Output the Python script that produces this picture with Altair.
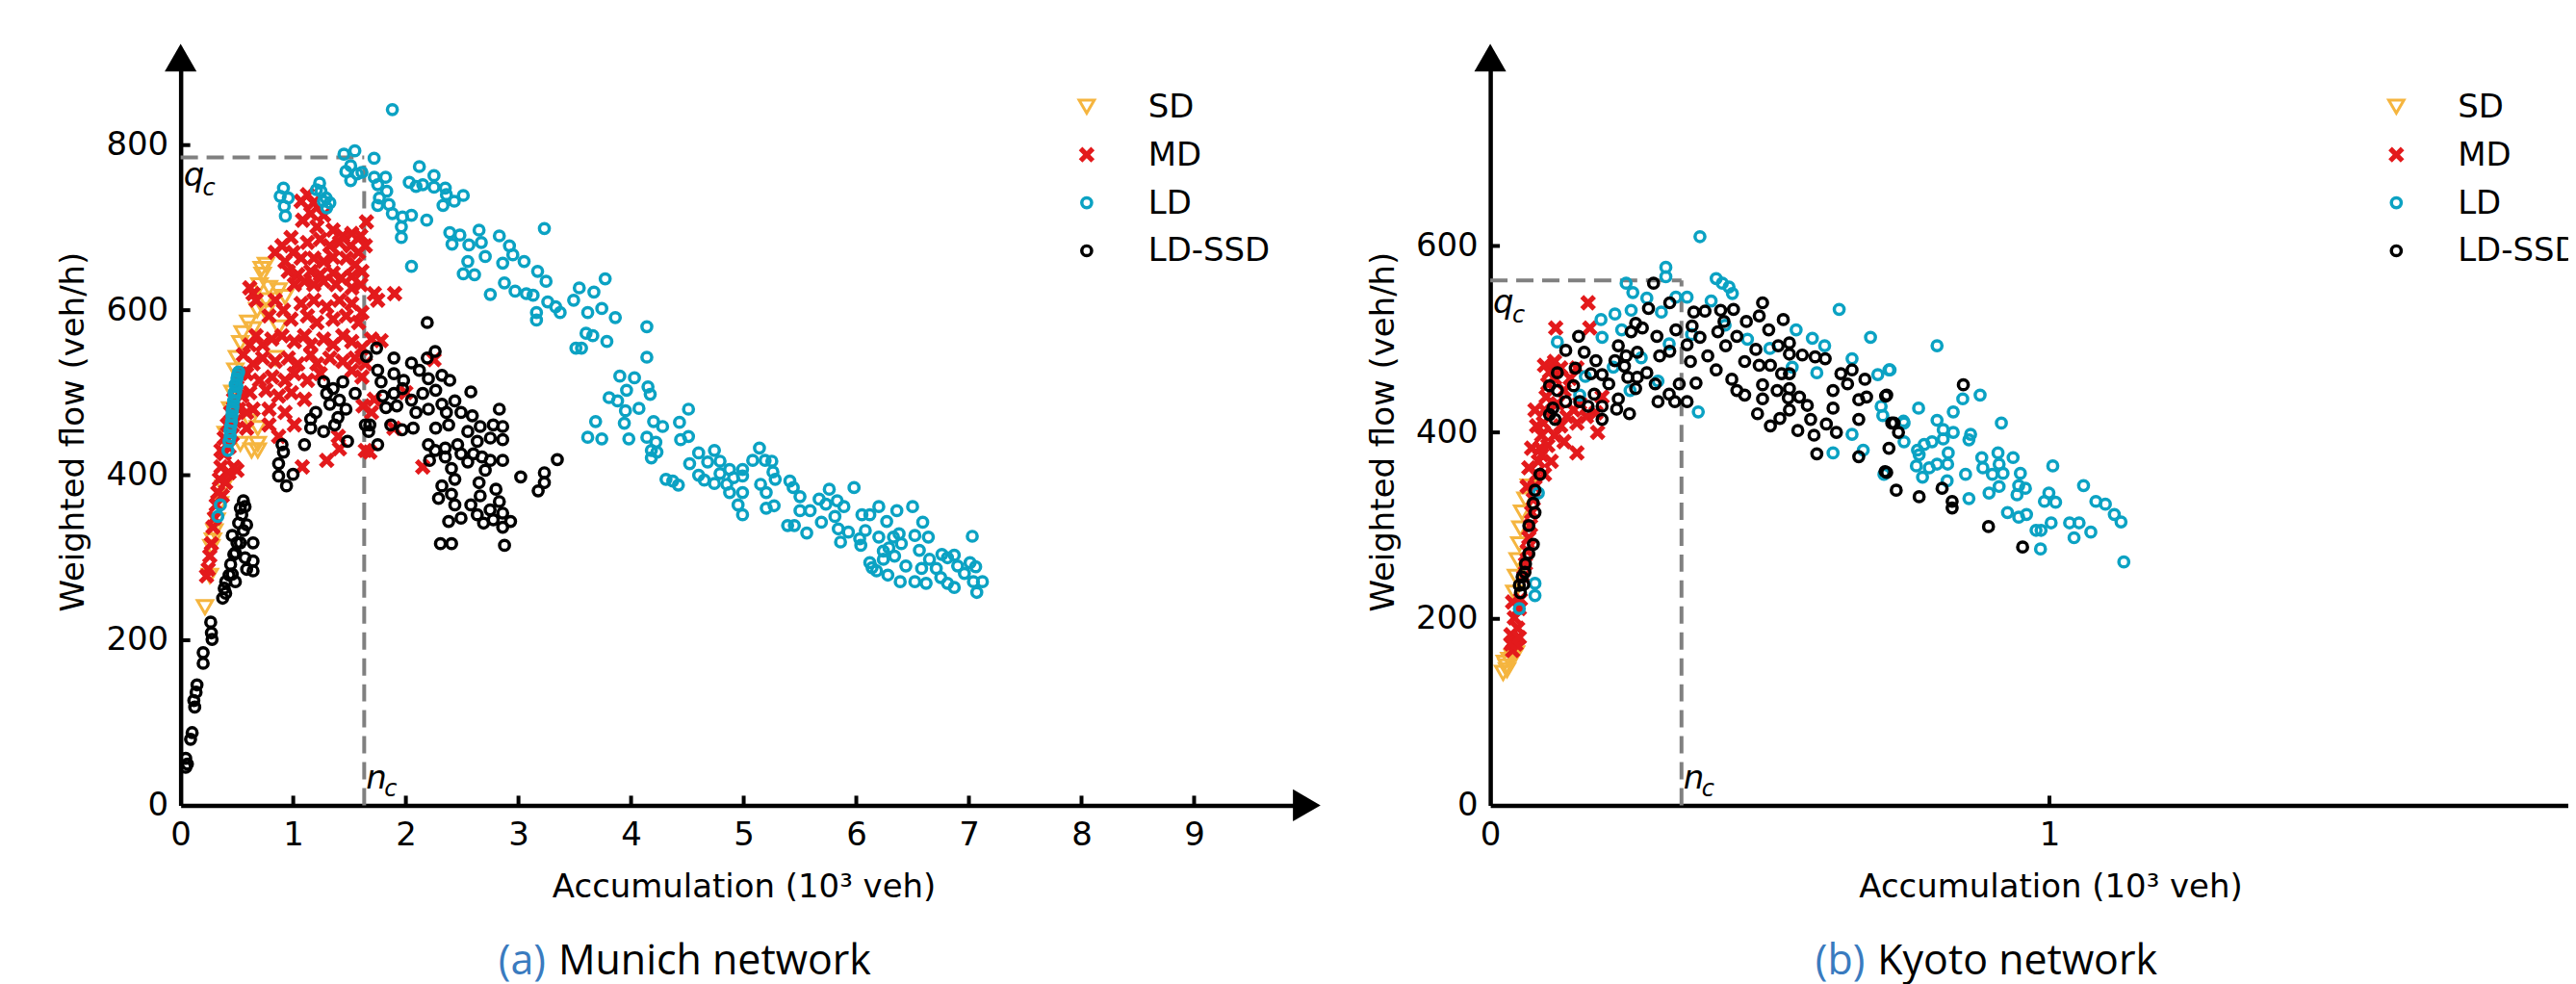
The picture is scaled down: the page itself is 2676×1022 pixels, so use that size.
import altair as alt
import pandas as pd

# ---------------- data ----------------
MUNICH_SD = [
    (0.216, 240), (0.259, 278), (0.273, 313), (0.287, 321), (0.30, 332), (0.32, 345),
    (0.35, 365), (0.38, 385), (0.40, 450), (0.44, 480), (0.46, 500), (0.486, 527),
    (0.50, 542), (0.53, 560), (0.55, 572), (0.60, 585), (0.643, 577), (0.68, 600),
    (0.70, 630), (0.72, 650), (0.757, 597), (0.757, 612), (0.757, 655), (0.728, 643),
    (0.785, 627), (0.87, 624), (0.927, 616), (0.87, 579), (0.842, 542), (0.614, 465),
    (0.685, 457), (0.685, 438), (0.63, 430), (0.53, 438), (0.685, 430),
]
MUNICH_MD = [
    (1.126, 740), (1.07, 732), (1.18, 730), (1.27, 715), (1.155, 717), (1.083, 709),
    (1.21, 701), (1.354, 697), (1.44, 690), (1.52, 693), (1.60, 690), (1.65, 707),
    (0.98, 688), (0.90, 678), (0.84, 670), (1.00, 670), (1.126, 682), (1.24, 686),
    (1.325, 678), (1.41, 682), (1.51, 678), (1.58, 670), (0.927, 659), (1.07, 663),
    (1.183, 663), (1.27, 659), (1.354, 664), (1.47, 663), (1.55, 655), (1.64, 678),
    (0.956, 647), (1.04, 643), (1.155, 647), (1.24, 643), (1.354, 645), (1.425, 639),
    (1.52, 641), (1.61, 647), (1.01, 631), (1.10, 635), (1.183, 631), (1.27, 635),
    (1.38, 631), (1.52, 627), (1.60, 631), (0.643, 620), (0.614, 627), (0.67, 612),
    (1.72, 620), (1.75, 612), (0.84, 612), (0.913, 600), (1.07, 608), (1.183, 612),
    (1.297, 604), (1.41, 612), (1.52, 608), (1.61, 597), (0.785, 593), (0.98, 589),
    (1.126, 593), (1.21, 585), (1.354, 589), (1.47, 593), (1.58, 585), (1.695, 565),
    (1.78, 563), (0.67, 569), (0.614, 558), (0.728, 558), (0.81, 565), (0.90, 569),
    (1.01, 562), (1.10, 569), (1.155, 558), (1.27, 565), (1.354, 558), (1.44, 569),
    (1.52, 562), (1.61, 554), (0.557, 546), (0.643, 535), (0.728, 542), (0.84, 538),
    (0.956, 542), (1.04, 535), (1.155, 546), (1.21, 535), (1.325, 542), (1.44, 538),
    (1.55, 542), (1.64, 535), (0.586, 523), (0.70, 515), (0.813, 519), (0.927, 515),
    (1.01, 523), (1.126, 515), (1.24, 523), (1.52, 527), (1.61, 519), (0.614, 500),
    (0.757, 503), (0.87, 496), (0.984, 500), (1.10, 492), (0.643, 480), (0.785, 480),
    (0.927, 476), (1.01, 461), (0.586, 457), (0.785, 461), (0.87, 447), (1.40, 447),
    (1.64, 430), (1.62, 484), (1.695, 476), (1.72, 492), (1.894, 457), (1.90, 620),
    (2.15, 410), (2.25, 540), (2.00, 500), (1.08, 410), (1.297, 418), (1.41, 432),
    (1.68, 428), (0.53, 523), (0.50, 507), (0.47, 492), (0.444, 476), (0.415, 461),
    (0.387, 445), (0.358, 430), (0.543, 496), (0.515, 480), (0.486, 465), (0.458, 449),
    (0.43, 434), (0.586, 476), (0.387, 426), (0.358, 410), (0.344, 395), (0.33, 379),
    (0.316, 364), (0.30, 348), (0.287, 337), (0.273, 317), (0.259, 302), (0.245, 286),
    (0.23, 278), (0.43, 403), (0.472, 410), (0.50, 406), (0.40, 391), (0.37, 375),
]
MUNICH_LD = [
    (1.88, 843), (1.45, 789), (1.547, 793), (1.51, 775), (1.467, 768), (1.567, 765),
    (1.51, 757), (1.61, 767), (1.718, 784), (0.913, 748), (0.884, 738), (0.956, 736),
    (0.92, 726), (0.93, 714), (1.234, 754), (1.206, 746), (1.246, 744), (1.291, 736),
    (1.325, 730), (1.297, 724), (1.268, 732), (1.72, 761), (1.82, 761), (1.75, 752),
    (1.83, 744), (1.765, 736), (1.75, 727), (1.85, 728), (1.88, 717), (1.97, 713),
    (2.05, 715), (1.96, 701), (1.96, 688), (2.03, 755), (2.12, 774), (2.09, 750),
    (2.15, 752), (2.25, 763), (2.25, 749), (2.35, 748), (2.36, 740), (2.33, 727),
    (2.43, 732), (2.51, 739), (2.185, 709), (2.05, 653), (2.39, 694), (2.48, 691),
    (2.41, 680), (2.56, 679), (2.65, 697), (2.67, 682), (2.705, 665), (2.55, 659),
    (2.51, 644), (2.61, 643), (2.75, 619), (2.83, 690), (2.92, 678), (2.95, 667),
    (2.86, 657), (3.05, 659), (2.875, 633), (2.97, 623), (3.07, 620), (3.13, 618),
    (3.17, 647), (3.23, 699), (3.245, 635), (3.26, 610), (3.33, 604), (3.37, 597),
    (3.16, 597), (3.16, 588), (3.49, 612), (3.54, 627), (3.67, 622), (3.77, 638),
    (3.615, 597), (3.74, 602), (3.86, 591), (4.14, 580), (4.14, 543), (3.60, 572),
    (3.66, 569), (3.51, 554), (3.56, 554), (3.785, 562), (3.90, 520), (4.03, 518),
    (3.96, 503), (3.805, 494), (3.88, 490), (3.95, 478), (4.07, 481), (4.15, 507),
    (4.17, 498), (3.685, 465), (3.615, 446), (3.74, 444), (3.94, 463), (3.98, 444),
    (4.14, 446), (4.20, 465), (4.28, 459), (4.22, 440), (4.18, 430), (4.23, 428),
    (4.18, 421), (4.43, 464), (4.51, 480), (4.51, 447), (4.44, 443), (4.31, 395),
    (4.37, 393), (4.42, 388), (4.52, 414), (4.60, 427), (4.68, 416), (4.74, 430),
    (4.79, 417), (4.60, 400), (4.65, 394), (4.74, 390), (4.79, 402), (4.875, 407),
    (4.91, 397), (4.85, 389), (4.875, 379), (4.99, 407), (4.99, 399), (5.08, 418),
    (5.14, 433), (5.19, 418), (5.25, 417), (5.26, 404), (5.28, 395), (5.20, 379),
    (5.20, 360), (5.27, 363), (4.95, 364), (4.99, 352), (4.99, 379), (5.15, 389),
    (5.41, 393), (5.44, 385), (5.50, 374), (5.50, 357), (5.59, 357), (5.39, 339),
    (5.45, 339), (5.56, 330), (5.67, 371), (5.76, 383), (5.73, 365), (5.83, 369),
    (5.89, 362), (5.81, 350), (5.69, 343), (5.84, 335), (5.86, 319), (5.93, 331),
    (5.98, 385), (6.05, 352), (6.03, 323), (6.04, 315), (6.08, 333), (6.12, 352),
    (6.20, 362), (6.27, 344), (6.20, 325), (6.24, 308), (6.29, 312), (6.33, 325),
    (6.36, 357), (6.38, 329), (6.40, 317), (6.12, 294), (6.14, 288), (6.18, 284),
    (6.24, 298), (6.28, 279), (6.34, 302), (6.39, 271), (6.44, 290), (6.50, 362),
    (6.52, 327), (6.59, 343), (6.56, 309), (6.58, 287), (6.52, 271), (6.62, 269),
    (6.65, 298), (6.64, 325), (6.71, 287), (6.75, 276), (6.76, 304), (6.81, 300),
    (6.81, 269), (6.87, 303), (6.87, 264), (6.90, 290), (6.96, 281), (7.01, 294),
    (7.03, 326), (7.06, 289), (7.04, 271), (7.07, 258), (7.12, 271),
    (0.33, 350), (0.353, 364), (0.42, 430), (0.43, 441), (0.438, 454), (0.445, 460),
    (0.452, 465), (0.455, 472), (0.458, 477), (0.465, 483), (0.47, 490), (0.48, 496),
    (0.49, 502), (0.50, 508), (0.50, 517), (0.505, 521), (0.515, 525), (0.44, 447),
    (0.46, 480), (0.475, 500), (0.485, 510),
]
MUNICH_SSD = [
    (0.045, 57), (0.06, 50), (0.045, 46), (0.102, 88), (0.088, 80), (0.117, 127),
    (0.125, 119), (0.145, 146), (0.137, 137), (0.20, 185), (0.20, 172), (0.267, 222),
    (0.273, 209), (0.279, 201), (0.373, 251), (0.387, 263), (0.40, 271), (0.458, 280),
    (0.40, 257), (0.486, 271), (0.444, 292), (0.486, 306), (0.53, 318), (0.557, 333),
    (0.543, 352), (0.572, 362), (0.586, 340), (0.643, 318), (0.643, 296), (0.643, 284),
    (0.572, 300), (0.50, 318), (0.458, 327), (0.515, 342), (0.53, 360), (0.557, 369),
    (0.472, 304), (0.586, 286), (0.43, 279),
    (0.87, 414), (0.87, 399), (0.94, 387), (0.998, 401), (0.913, 428), (0.90, 437),
    (1.10, 437), (1.155, 457), (1.155, 468), (1.20, 476), (1.27, 513), (1.354, 505),
    (1.44, 513), (1.55, 499), (1.297, 499), (1.325, 486), (1.397, 470), (1.468, 480),
    (1.41, 491), (1.482, 441), (1.27, 453), (1.368, 461), (1.64, 461), (1.67, 453),
    (1.74, 554), (1.65, 544), (1.894, 542), (2.05, 536), (2.19, 542), (2.26, 550),
    (1.75, 527), (1.78, 513), (1.894, 523), (1.98, 515), (2.12, 527), (2.20, 517),
    (2.32, 521), (2.39, 515), (1.795, 496), (1.894, 499), (1.97, 505), (2.05, 491),
    (2.15, 499), (2.265, 503), (2.32, 486), (2.435, 490), (2.577, 501), (1.823, 482),
    (1.92, 484), (2.09, 476), (2.20, 480), (2.36, 476), (2.49, 476), (2.59, 472),
    (2.83, 480), (1.866, 461), (1.966, 455), (2.065, 457), (2.265, 457), (2.38, 461),
    (2.55, 453), (2.66, 459), (2.776, 461), (2.86, 459), (2.86, 443), (2.75, 445),
    (2.634, 441), (2.46, 437), (2.35, 433), (2.20, 437), (1.75, 437), (1.68, 461),
    (2.19, 585), (2.21, 418), (2.26, 430), (2.35, 422), (2.405, 408), (2.435, 395),
    (2.49, 426), (2.55, 416), (2.60, 426), (2.676, 422), (2.75, 418), (2.86, 418),
    (2.32, 387), (2.29, 372), (2.405, 377), (2.435, 364), (2.38, 344), (2.49, 348),
    (2.577, 364), (2.634, 352), (2.69, 342), (2.66, 375), (2.748, 358), (2.776, 346),
    (2.83, 368), (2.86, 354), (2.86, 337), (2.93, 344), (2.80, 383), (2.705, 406),
    (2.65, 391), (2.307, 317), (2.406, 317), (2.876, 315), (3.02, 398), (3.175, 381),
    (3.23, 391), (3.23, 403), (3.345, 419),
]

KYOTO_SD = [
    (0.023, 142), (0.029, 149), (0.034, 156), (0.026, 153), (0.040, 159), (0.046, 163),
    (0.030, 145), (0.043, 228), (0.046, 245), (0.049, 263), (0.052, 280), (0.054, 297),
    (0.057, 314), (0.063, 328), (0.069, 342),
]
KYOTO_MD = [
    (0.040, 166), (0.046, 177), (0.037, 183), (0.049, 190), (0.043, 201), (0.052, 211),
    (0.040, 218), (0.054, 221), (0.046, 173), (0.037, 173), (0.052, 180),
    (0.060, 245), (0.063, 259), (0.066, 273), (0.069, 287), (0.072, 300), (0.074, 314),
    (0.077, 328), (0.080, 342), (0.083, 355), (0.086, 369), (0.089, 383), (0.092, 397),
    (0.095, 410), (0.097, 424), (0.100, 438), (0.103, 452), (0.106, 465), (0.097, 472),
    (0.115, 476), (0.074, 383), (0.092, 376), (0.103, 386), (0.115, 397), (0.126, 407),
    (0.137, 417), (0.149, 424), (0.160, 431), (0.172, 417), (0.155, 410), (0.132, 390),
    (0.109, 369), (0.097, 355), (0.120, 431), (0.132, 445), (0.143, 458), (0.155, 469),
    (0.115, 458), (0.126, 469), (0.080, 424), (0.083, 407), (0.069, 362), (0.066, 342),
    (0.155, 378), (0.192, 400), (0.175, 539), (0.117, 512), (0.178, 512), (0.189, 421),
    (0.200, 438),
]
KYOTO_LD = [
    (0.375, 610), (0.314, 577), (0.314, 567), (0.243, 560), (0.255, 550), (0.280, 544),
    (0.198, 521), (0.223, 527), (0.252, 531), (0.306, 529), (0.332, 545), (0.352, 545),
    (0.404, 565), (0.415, 560), (0.427, 556), (0.433, 549), (0.395, 541), (0.624, 532),
    (0.680, 502), (0.200, 502), (0.235, 510), (0.547, 510), (0.576, 501), (0.598, 493),
    (0.647, 479), (0.713, 467), (0.693, 462), (0.584, 464), (0.372, 422), (0.613, 378),
    (0.667, 381), (0.704, 355), (0.699, 428), (0.702, 418), (0.647, 398), (0.120, 497),
    (0.052, 211), (0.080, 238), (0.080, 225), (0.086, 335), (0.739, 412),
    (0.170, 460), (0.220, 470), (0.270, 480), (0.320, 495), (0.360, 505), (0.420, 515),
    (0.460, 500), (0.500, 490), (0.300, 455), (0.250, 445), (0.160, 440), (0.540, 470),
    (0.799, 493), (0.715, 467), (0.766, 426), (0.740, 410), (0.740, 390), (0.799, 413),
    (0.810, 403), (0.828, 400), (0.828, 422), (0.845, 436), (0.876, 440), (0.810, 393),
    (0.790, 390), (0.776, 387), (0.764, 381), (0.767, 376), (0.819, 378), (0.799, 366),
    (0.818, 366), (0.762, 364), (0.785, 362), (0.773, 352), (0.817, 348), (0.850, 355),
    (0.859, 398), (0.856, 392), (0.914, 410), (0.879, 373), (0.881, 362), (0.908, 378),
    (0.910, 366), (0.898, 355), (0.917, 356), (0.935, 373), (0.948, 356), (0.945, 343),
    (0.957, 340), (0.942, 333), (0.892, 335), (0.910, 342), (0.856, 329), (1.006, 364),
    (0.925, 314), (0.945, 309), (0.959, 312), (0.976, 295), (0.985, 295), (1.003, 303),
    (0.984, 275), (0.999, 335), (0.991, 326), (1.011, 325), (1.036, 303), (1.053, 303),
    (1.044, 287), (1.074, 293), (1.061, 343), (1.083, 326), (1.100, 323), (1.116, 312),
    (1.128, 304), (1.133, 261),
]
KYOTO_SSD = [
    (0.292, 560), (0.283, 533), (0.321, 539), (0.298, 503), (0.260, 517), (0.272, 512),
    (0.252, 508), (0.158, 503), (0.135, 488), (0.168, 486), (0.189, 477), (0.152, 469),
    (0.120, 464), (0.106, 450), (0.120, 445), (0.149, 450), (0.135, 433), (0.112, 426),
    (0.106, 419), (0.116, 414), (0.180, 463), (0.200, 462), (0.212, 452), (0.186, 441),
    (0.160, 433), (0.175, 428), (0.200, 428), (0.200, 414), (0.223, 477), (0.229, 493),
    (0.243, 482), (0.263, 486), (0.240, 471), (0.246, 459), (0.263, 459), (0.260, 447),
    (0.229, 436), (0.226, 425), (0.249, 420), (0.280, 464), (0.295, 452), (0.300, 433),
    (0.320, 441), (0.330, 433), (0.352, 433), (0.303, 482), (0.321, 487), (0.338, 452),
    (0.332, 510), (0.358, 476), (0.368, 453), (0.364, 529), (0.384, 530), (0.361, 514),
    (0.375, 502), (0.352, 494), (0.389, 482), (0.407, 508), (0.418, 519), (0.435, 532),
    (0.412, 531), (0.421, 493), (0.404, 467), (0.432, 457), (0.441, 445), (0.455, 440),
    (0.441, 503), (0.458, 519), (0.481, 525), (0.487, 539), (0.498, 510), (0.475, 489),
    (0.481, 472), (0.501, 472), (0.455, 476), (0.524, 521), (0.515, 493), (0.535, 496),
    (0.535, 484), (0.558, 483), (0.521, 463), (0.535, 463), (0.581, 481), (0.599, 479),
    (0.487, 451), (0.535, 447), (0.553, 438), (0.533, 437), (0.513, 445), (0.487, 436),
    (0.478, 420), (0.501, 407), (0.518, 415), (0.535, 424), (0.567, 429), (0.573, 414),
    (0.550, 402), (0.579, 397), (0.584, 377), (0.601, 409), (0.619, 400), (0.627, 463),
    (0.647, 467), (0.670, 457), (0.673, 438), (0.659, 435), (0.639, 452), (0.613, 445),
    (0.613, 426), (0.659, 414), (0.707, 439), (0.718, 410), (0.730, 400), (0.713, 383),
    (0.706, 358), (0.726, 338), (0.659, 374), (0.846, 451), (0.709, 440), (0.722, 410),
    (0.709, 357), (0.767, 331), (0.808, 340), (0.826, 326), (0.826, 319), (0.891, 299),
    (0.952, 277), (0.089, 355), (0.080, 338), (0.077, 324), (0.080, 314), (0.069, 300),
    (0.077, 280), (0.069, 270), (0.063, 259), (0.057, 245), (0.060, 237), (0.054, 228),
    (0.052, 236), (0.062, 250),
]

SERIES = ["SD", "MD", "LD", "LD-SSD"]
MUNICH_NC, MUNICH_QC = 1.63, 785
KYOTO_NC, KYOTO_QC = 0.342, 563
MUNICH_XTICKS = [0, 1, 2, 3, 4, 5, 6, 7, 8, 9]
MUNICH_YTICKS = [0, 200, 400, 600, 800]
KYOTO_XTICKS = [0, 1]
KYOTO_YTICKS = [0, 200, 400, 600]

# ---------------- styling ----------------
COL = {"SD": "#f5b53f", "MD": "#e31a1c", "LD": "#0ba2c3", "LD-SSD": "#000000"}
X_PATH = ("M-1,-0.55L-0.55,-1L0,-0.45L0.55,-1L1,-0.55L0.45,0L1,0.55L0.55,1"
          "L0,0.45L-0.55,1L-1,0.55L-0.45,0Z")
AXFONT = "DejaVu Sans"
CAPFONT = "Open Sans"
FS = 34
H = 778


def mark_for(chart, name):
    if name == "SD":
        return chart.mark_point(shape="triangle-down", filled=False, stroke=COL[name],
                                strokeWidth=3.0, size=250, opacity=1)
    if name == "MD":
        return chart.mark_point(shape=X_PATH, filled=True, fill=COL[name],
                                strokeWidth=0, size=270, opacity=1)
    return chart.mark_point(shape="circle", filled=False, stroke=COL[name],
                            strokeWidth=3.5, size=105, opacity=1)


def panel(data, xmax, ymax, width, xticks, yticks, nc, qc, q_dy, n_dy,
          letter, name, cap_x, legend_clip, title_x, arrow_right):
    xs = alt.Scale(domain=[0, xmax], nice=False, zero=False)
    ys = alt.Scale(domain=[0, ymax], nice=False, zero=False)
    xkw = dict(values=xticks, title="Accumulation (10³ veh)", format="d",
               labelPadding=14, titlePadding=20, labelFlush=False, grid=False,
               ticks=False, domain=True, domainColor="black", domainWidth=4.5,
               labelFont=AXFONT, labelFontSize=FS, labelColor="black",
               titleFont=AXFONT, titleFontSize=FS, titleFontWeight="normal",
               titleColor="black")
    if title_x is not None:
        xkw["titleX"] = title_x
    ykw = dict(xkw)
    ykw.pop("titleX", None)
    ykw.update(values=yticks, title="Weighted flow (veh/h)", labelPadding=13,
               titlePadding=16)
    X = alt.X("x:Q", scale=xs, axis=alt.Axis(**xkw))
    Y = alt.Y("y:Q", scale=ys, axis=alt.Axis(**ykw))
    X2 = alt.X2("x2:Q")
    Y2 = alt.Y2("y2:Q")

    layers = []
    # dashed critical lines
    dash = pd.DataFrame({"x": [0, nc], "x2": [nc, nc], "y": [qc, 0], "y2": [qc, qc]})
    layers.append(alt.Chart(dash).mark_rule(color="#808080", strokeWidth=4,
                                            strokeDash=[18, 9]).encode(x=X, x2=X2, y=Y, y2=Y2))
    # scatter series
    for s in SERIES:
        df = pd.DataFrame(data[s], columns=["x", "y"])
        layers.append(mark_for(alt.Chart(df), s).encode(x=X, y=Y))
    # inward ticks
    xt = pd.DataFrame({"x": [v for v in xticks if v > 0]})
    layers.append(alt.Chart(xt).mark_rule(color="black", strokeWidth=4).encode(
        x=X, y=alt.value(H), y2=alt.value(H - 10)))
    yt = pd.DataFrame({"y": [v for v in yticks if v > 0]})
    layers.append(alt.Chart(yt).mark_rule(color="black", strokeWidth=4).encode(
        y=Y, x=alt.value(0), x2=alt.value(10)))
    # arrow heads
    arr = [(0, ymax, "triangle-up")]
    if arrow_right:
        arr.append((xmax, 0, "triangle-right"))
    adf = pd.DataFrame(arr, columns=["x", "y", "shape"])
    layers.append(alt.Chart(adf).mark_point(filled=True, color="black", size=1100,
                                            opacity=1).encode(
        x=X, y=Y, shape=alt.Shape("shape:N", scale=None, legend=None)))
    # q_c and n_c labels
    qdf = pd.DataFrame({"x": [0], "y": [qc]})
    layers.append(alt.Chart(qdf).mark_text(text="q", font=AXFONT, fontStyle="italic",
                                           fontSize=34, align="left", baseline="alphabetic",
                                           dx=3, dy=q_dy).encode(x=X, y=Y))
    layers.append(alt.Chart(qdf).mark_text(text="c", font=AXFONT, fontStyle="italic",
                                           fontSize=24, align="left", baseline="alphabetic",
                                           dx=23, dy=q_dy + 10).encode(x=X, y=Y))
    ndf = pd.DataFrame({"x": [nc], "y": [0]})
    layers.append(alt.Chart(ndf).mark_text(text="n", font=AXFONT, fontStyle="italic",
                                           fontSize=34, align="left", baseline="alphabetic",
                                           dx=2, dy=n_dy).encode(x=X, y=Y))
    layers.append(alt.Chart(ndf).mark_text(text="c", font=AXFONT, fontStyle="italic",
                                           fontSize=24, align="left", baseline="alphabetic",
                                           dx=21, dy=n_dy + 8).encode(x=X, y=Y))
    # legend
    one = pd.DataFrame({"k": [0]})
    for i, s in enumerate(SERIES):
        yy = 51 + 50 * i
        layers.append(mark_for(alt.Chart(one), s).encode(x=alt.value(943), y=alt.value(yy)))
        layers.append(alt.Chart(one).mark_text(text=s, font=AXFONT, fontSize=FS,
                                               align="left", baseline="middle",
                                               clip=legend_clip).encode(
            x=alt.value(1007), y=alt.value(yy + 1)))
    # caption
    layers.append(alt.Chart(one).mark_text(text=letter, font=CAPFONT, fontSize=43,
                                           color="#3a7bbf", align="right",
                                           baseline="alphabetic").encode(
        x=alt.value(cap_x), y=alt.value(954)))
    layers.append(alt.Chart(one).mark_text(text=name, font=CAPFONT, fontSize=43,
                                           color="black", align="left",
                                           baseline="alphabetic").encode(
        x=alt.value(cap_x + 13), y=alt.value(954)))
    return alt.layer(*layers).properties(width=width, height=H)


munich = panel({"SD": MUNICH_SD, "MD": MUNICH_MD, "LD": MUNICH_LD, "LD-SSD": MUNICH_SSD},
               10.0, 906, 1172, MUNICH_XTICKS, MUNICH_YTICKS, MUNICH_NC, MUNICH_QC,
               29, -17, "(a)", "Munich network", 380, False, None, True)
kyoto = panel({"SD": KYOTO_SD, "MD": KYOTO_MD, "LD": KYOTO_LD, "LD-SSD": KYOTO_SSD},
              1122 / 582, 802, 1122, KYOTO_XTICKS, KYOTO_YTICKS, KYOTO_NC, KYOTO_QC,
              34, -17, "(b)", "Kyoto network", 390, True, 583, False)

chart = alt.hconcat(munich, kyoto, spacing=48).properties(
    padding={"left": 52, "top": 36, "right": 0, "bottom": 8},
    background="white",
).configure_view(stroke=None)

chart.save("out.html", embed_options={"renderer": "svg", "actions": False})
